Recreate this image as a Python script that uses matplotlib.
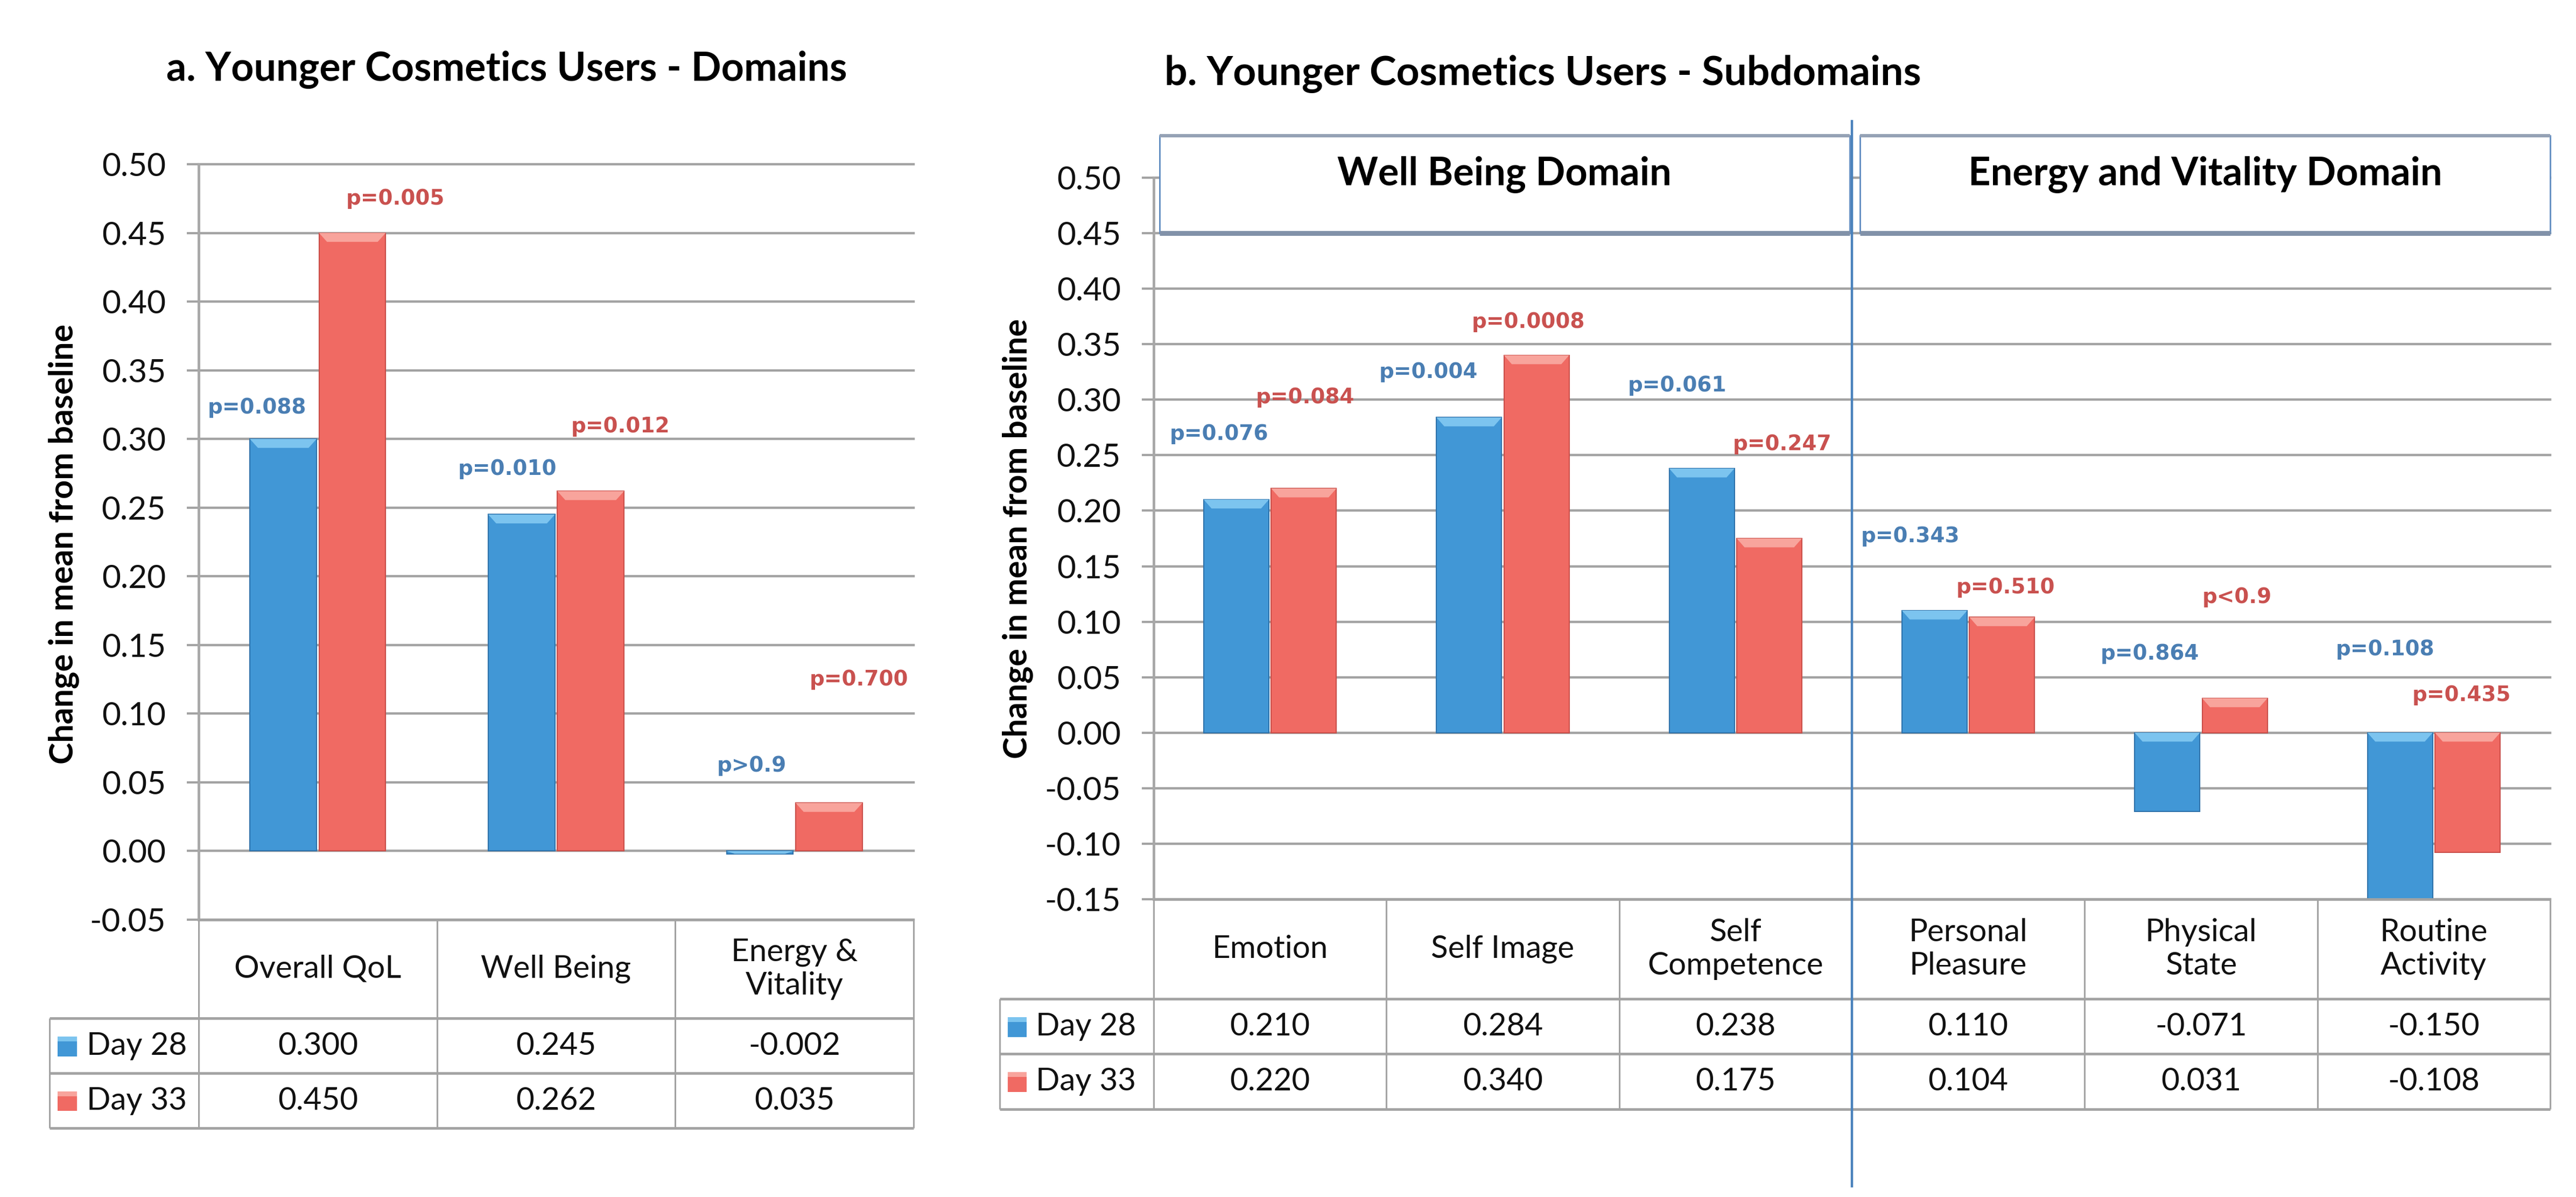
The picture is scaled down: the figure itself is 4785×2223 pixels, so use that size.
import numpy as np
import matplotlib.pyplot as plt
import matplotlib.transforms as mtransforms
from matplotlib.patches import Rectangle, Polygon
from matplotlib.lines import Line2D

plt.rcParams['font.family'] = ['Lato', 'DejaVu Sans']

# ---- data -------------------------------------------------------------
series = ["Day 28", "Day 33"]

cats_a = ["Overall QoL", "Well Being", "Energy &\nVitality"]
day28_a = [0.300, 0.245, -0.002]
day33_a = [0.450, 0.262, 0.035]
pval28_a = ["p=0.088", "p=0.010", "p>0.9"]
pval33_a = ["p=0.005", "p=0.012", "p=0.700"]

cats_b = ["Emotion", "Self Image", "Self\nCompetence",
          "Personal\nPleasure", "Physical\nState", "Routine\nActivity"]
day28_b = [0.210, 0.284, 0.238, 0.110, -0.071, -0.150]
day33_b = [0.220, 0.340, 0.175, 0.104, 0.031, -0.108]
pval28_b = ["p=0.076", "p=0.004", "p=0.061", "p=0.343", "p=0.864", "p=0.108"]
pval33_b = ["p=0.084", "p=0.0008", "p=0.247", "p=0.510", "p<0.9", "p=0.435"]
domains_b = ["Well Being Domain", "Energy and Vitality Domain"]

# p-value label placement: (x offset from category centre, y centre)
lab28_a = [(-0.255, 0.323), (-0.205, 0.278), (-0.18, 0.062)]
lab33_a = [(0.326, 0.475), (0.27, 0.309), (0.27, 0.125)]
lab28_b = [(-0.22, 0.269), (-0.32, 0.325), (-0.25, 0.313),
           (-0.25, 0.177), (-0.22, 0.071), (-0.21, 0.075)]
lab33_b = [(0.15, 0.302), (0.11, 0.370), (0.20, 0.260),
           (0.16, 0.131), (0.155, 0.122), (0.12, 0.034)]

# ---- style -------------------------------------------------------------
BLUE, BLUE_L, BLUE_E = '#4197d6', '#7cc4ef', '#2f72aa'
RED, RED_L, RED_E = '#f06a63', '#f8a49c', '#c94e49'
BLUE_T, RED_T = '#4a7eb3', '#c9514f'
GRID = '#a3a3a3'
BW = 0.28
FS_TXT = 42

W, H = 4785, 2223
fig = plt.figure(figsize=(W / 100, H / 100), dpi=100)


def frac(x0, y0, x1, y1):
    return [x0 / W, 1 - y1 / H, (x1 - x0) / W, (y1 - y0) / H]


def bars(ax, vals, off, col, light, edge, bevel):
    x = np.arange(len(vals)) + off
    bs = ax.bar(x, vals, width=BW, color=col, edgecolor=edge,
                linewidth=1.5, zorder=3)
    for b, v in zip(bs, vals):
        x0, w = b.get_x(), b.get_width()
        top = max(v, 0)
        h = min(bevel, abs(v))
        ins = w * 0.12
        poly = Polygon([[x0, top], [x0 + w, top], [x0 + w - ins, top - h],
                        [x0 + ins, top - h]], closed=True,
                       facecolor=light, edgecolor='none', zorder=4)
        ax.add_patch(poly)


def setup_axis(ax, ymin, ymax, n):
    ax.set_xlim(-0.5, n - 0.5)
    ax.set_ylim(ymin, ymax)
    ticks = np.round(np.arange(ymin, ymax + 0.001, 0.05), 2)
    ax.set_yticks(ticks)
    ax.set_yticklabels([f"{t:.2f}" for t in ticks])
    ax.set_xticks([])
    for s in ['top', 'right', 'bottom']:
        ax.spines[s].set_visible(False)
    ax.spines['left'].set_color('#a8a8a8')
    ax.spines['left'].set_linewidth(3.5)
    ax.tick_params(axis='y', length=16, width=3, color=GRID, pad=28,
                   labelsize=43.5, labelcolor='#111111')
    ax.grid(axis='y', color=GRID, linewidth=3.2, zorder=0)
    ax.set_axisbelow(True)
    for gl in ax.get_ygridlines():
        gl.set_clip_on(False)


def table(ax_t, cats, v28, v33, legw):
    n = len(cats)
    rows = [0, 1.8, 2.8, 3.8]
    ax_t.set_xlim(-0.5 - legw, n - 0.5)
    ax_t.set_ylim(rows[-1], 0)
    ax_t.axis('off')
    kw = dict(color=GRID, solid_capstyle='butt', clip_on=False)
    ax_t.plot([-0.5, n - 0.5], [0, 0], lw=3.5, **kw)
    for r in rows[1:]:
        ax_t.plot([-0.5 - legw, n - 0.5], [r, r], lw=3.5, **kw)
    for k in range(n + 1):
        ax_t.plot([k - 0.5, k - 0.5], [0, rows[-1]], lw=2.2, **kw)
    ax_t.plot([-0.5 - legw, -0.5 - legw], [rows[1], rows[-1]], lw=2.2, **kw)
    for i, c in enumerate(cats):
        ax_t.text(i, rows[1] / 2, c, ha='center', va='center', fontsize=FS_TXT,
                  color='#111111', linespacing=1.2)
        ax_t.text(i, (rows[1] + rows[2]) / 2, f"{v28[i]:.3f}", ha='center',
                  va='center', fontsize=FS_TXT, color='#111111')
        ax_t.text(i, (rows[2] + rows[3]) / 2, f"{v33[i]:.3f}", ha='center',
                  va='center', fontsize=FS_TXT, color='#111111')
    for j, (name, col, light) in enumerate(zip(series, [BLUE, RED],
                                               [BLUE_L, RED_L])):
        yc = (rows[j + 1] + rows[j + 2]) / 2
        x0 = -0.5 - legw + 0.035
        ax_t.add_patch(Rectangle((x0, yc - 0.17), 0.08, 0.36, facecolor=col,
                                 edgecolor='none', clip_on=False))
        ax_t.add_patch(Rectangle((x0, yc - 0.17), 0.08, 0.09, facecolor=light,
                                 edgecolor='none', clip_on=False))
        ax_t.text(x0 + 0.12, yc, name, ha='left', va='center', fontsize=FS_TXT,
                  color='#111111')


def plabels(ax, texts, pos, col):
    for i, (t, (dx, y)) in enumerate(zip(texts, pos)):
        ax.text(i + dx, y, t, ha='center', va='center', color=col,
                fontsize=28, fontweight='bold', family='DejaVu Sans', zorder=6)


# ---- panel a ------------------------------------------------------------
ax_a = fig.add_axes(frac(369, 305, 1697, 1708))
setup_axis(ax_a, -0.05, 0.50, len(cats_a))
bars(ax_a, day28_a, -0.145, BLUE, BLUE_L, BLUE_E, 0.0065)
bars(ax_a, day33_a, 0.145, RED, RED_L, RED_E, 0.0065)
plabels(ax_a, pval28_a, lab28_a, BLUE_T)
plabels(ax_a, pval33_a, lab33_a, RED_T)
ax_ta = fig.add_axes(frac(92, 1708, 1697, 2095))
table(ax_ta, cats_a, day28_a, day33_a, (369 - 92) / 442.7)
fig.text(309 / W, 1 - 150 / H, "a. Younger Cosmetics Users - Domains",
         ha='left', va='baseline', fontsize=53, fontweight='bold')
fig.text(118 / W, 1 - 1010 / H, "Change in mean from baseline", rotation=90,
         ha='center', va='center', fontsize=44, fontweight='bold')

# ---- panel b ------------------------------------------------------------
ax_b = fig.add_axes(frac(2143, 330, 4737, 1670))
setup_axis(ax_b, -0.15, 0.50, len(cats_b))
bars(ax_b, day28_b, -0.145, BLUE, BLUE_L, BLUE_E, 0.008)
bars(ax_b, day33_b, 0.145, RED, RED_L, RED_E, 0.008)
plabels(ax_b, pval28_b, lab28_b, BLUE_T)
plabels(ax_b, pval33_b, lab33_b, RED_T)
ax_tb = fig.add_axes(frac(1857, 1670, 4737, 2060))
table(ax_tb, cats_b, day28_b, day33_b, (2143 - 1857) / 432.3)
fig.text(2163 / W, 1 - 158 / H, "b. Younger Cosmetics Users - Subdomains",
         ha='left', va='baseline', fontsize=54, fontweight='bold')
fig.text(1890 / W, 1 - 1000 / H, "Change in mean from baseline", rotation=90,
         ha='center', va='center', fontsize=44, fontweight='bold')

# domain header boxes
box_top = 0.538
for (x0, x1), name in zip([(-0.475, 2.49), (2.535, 5.5)], domains_b):
    ax_b.add_patch(Rectangle((x0, 0.45), x1 - x0, box_top - 0.45,
                             facecolor='white', edgecolor='#5d8ac0',
                             linewidth=2, clip_on=False, zorder=5))
    ax_b.plot([x0, x1], [0.45, 0.45], color='#8292a9', lw=6.5,
              solid_capstyle='butt', clip_on=False, zorder=6)
    ax_b.plot([x0, x1], [box_top, box_top], color='#95a2b5', lw=4.5,
              solid_capstyle='butt', clip_on=False, zorder=6)
    ax_b.text((x0 + x1) / 2, 0.503, name, ha='center', va='center',
              fontsize=52, fontweight='bold', zorder=7)

# vertical divider between the two domains
trans = mtransforms.blended_transform_factory(ax_b.transData, fig.transFigure)
fig.add_artist(Line2D([2.5, 2.5], [1 - 225 / H, 1 - 2203 / H], transform=trans,
                      color='#4a82bc', linewidth=3.2, zorder=10))

fig.savefig('out.png', dpi=100, facecolor='white')
